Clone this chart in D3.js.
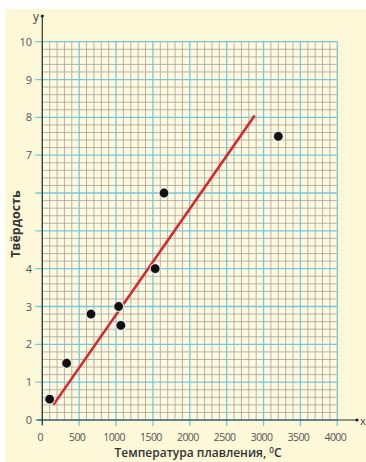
<!DOCTYPE html>
<html><head><meta charset="utf-8">
<script src="https://cdn.jsdelivr.net/npm/d3@7"></script>
<style>body{margin:0;background:#fff}svg{display:block}</style>
</head><body>
<script>
const xTicks = [0, 500, 1000, 1500, 2000, 2500, 3000, 3500, 4000];
const yTicks = [0, 1, 2, 3, 4, 5, 6, 7, 8, 9, 10];
const yTickLabels = ["0","1","2","3","4","","","7","8","9","10"];
const meltTemp = [100, 330, 660, 1035, 1065, 1530, 1650, 3200];
const hardness = [0.55, 1.5, 2.8, 3.0, 2.5, 4.0, 6.0, 7.5];
const trendX = [150, 2880];
const trendY = [0.4, 8.05];
const xTitle = "Температура плавления, ";
const yTitle = "Твёрдость";

const W = 366, H = 462;
const svg = d3.select("body").append("svg").attr("width", W).attr("height", H);
svg.append("rect").attr("x", 5).attr("y", 9).attr("width", W - 5).attr("height", H - 9).attr("fill", "#fdf8d8");

const x = d3.scaleLinear().domain([0, 4000]).range([42.3, 337.3]);
const y = d3.scaleLinear().domain([0, 10]).range([420, 41.7]);

svg.append("rect").attr("x", x(0)).attr("y", y(10)).attr("width", x(4000) - x(0)).attr("height", y(0) - y(10)).attr("fill", "#fefbe2");

const g = svg.append("g");
const xMinor = d3.range(0, 4001, 100).filter(v => v % 500 !== 0);
const yMinor = d3.range(0, 50.1, 1).map(v => v / 5).filter((v, i) => i % 5 !== 0);
g.selectAll(".vm").data(xMinor).join("line")
  .attr("x1", d => x(d)).attr("x2", d => x(d)).attr("y1", y(0)).attr("y2", y(10))
  .attr("stroke", "#b2a89c").attr("stroke-width", 0.9);
g.selectAll(".hm").data(yMinor).join("line")
  .attr("y1", d => y(d)).attr("y2", d => y(d)).attr("x1", x(0)).attr("x2", x(4000))
  .attr("stroke", "#b2a89c").attr("stroke-width", 0.9);
g.selectAll(".vM").data(xTicks).join("line")
  .attr("x1", d => x(d)).attr("x2", d => x(d)).attr("y1", y(0) + 6).attr("y2", y(10))
  .attr("stroke", "#74c8d8").attr("stroke-width", 1.3);
g.selectAll(".hM").data(yTicks).join("line")
  .attr("y1", d => y(d)).attr("y2", d => y(d)).attr("x1", x(0) - 7).attr("x2", x(4000))
  .attr("stroke", "#74c8d8").attr("stroke-width", 1.3);

const ax = svg.append("g");
ax.append("line").attr("x1", x(0) - 5).attr("x2", 357).attr("y1", y(0)).attr("y2", y(0)).attr("stroke", "#333").attr("stroke-width", 1.2);
ax.append("line").attr("x1", x(0)).attr("x2", x(0)).attr("y1", y(0) + 5).attr("y2", 16).attr("stroke", "#333").attr("stroke-width", 1.2);
ax.append("circle").attr("cx", x(0)).attr("cy", 16).attr("r", 1.6).attr("fill", "#222");
ax.append("circle").attr("cx", 357).attr("cy", y(0)).attr("r", 1.6).attr("fill", "#222");
ax.append("text").attr("x", 36).attr("y", 21).attr("text-anchor", "middle").attr("font-family", "Open Sans").attr("font-size", 12).attr("fill", "#444").text("y");
ax.append("text").attr("x", 360).attr("y", 425).attr("font-family", "Open Sans").attr("font-size", 11).attr("fill", "#444").text("x");

svg.selectAll(".yl").data(yTicks).join("text")
  .attr("x", 32).attr("y", d => y(d) + 4).attr("text-anchor", "end")
  .attr("font-family", "Open Sans").attr("font-size", 11).attr("fill", "#555")
  .text((d, i) => yTickLabels[i]);
svg.selectAll(".xl").data(xTicks).join("text")
  .attr("x", d => x(d) - 2).attr("y", 440.5).attr("text-anchor", "middle")
  .attr("font-family", "Open Sans").attr("font-size", 10.5).attr("fill", "#555")
  .attr("letter-spacing", -0.6)
  .text(d => d);

const xt = svg.append("text").attr("x", 198).attr("y", 456.5).attr("text-anchor", "middle")
  .attr("font-family", "Open Sans").attr("font-weight", 600).attr("font-size", 12).attr("fill", "#333");
xt.append("tspan").text(xTitle);
xt.append("tspan").attr("dy", -4).attr("font-size", 8).text("0");
xt.append("tspan").attr("dy", 4).text("C");
svg.append("text").attr("transform", "translate(20,224) rotate(-90)").attr("text-anchor", "middle")
  .attr("font-family", "Open Sans").attr("font-weight", 700).attr("font-size", 12.5).attr("fill", "#333").text(yTitle);

svg.append("line").attr("x1", x(trendX[0])).attr("y1", y(trendY[0])).attr("x2", x(trendX[1])).attr("y2", y(trendY[1]))
  .attr("stroke", "#d9252b").attr("stroke-width", 2.6);

const pts = meltTemp.map((t, i) => [t, hardness[i]]);
svg.selectAll(".pt").data(pts).join("circle")
  .attr("cx", d => x(d[0])).attr("cy", d => y(d[1])).attr("r", 5)
  .attr("fill", "#111").attr("stroke", "#fff").attr("stroke-width", 1.2).attr("stroke-opacity", 0.8);
</script>
</body></html>
